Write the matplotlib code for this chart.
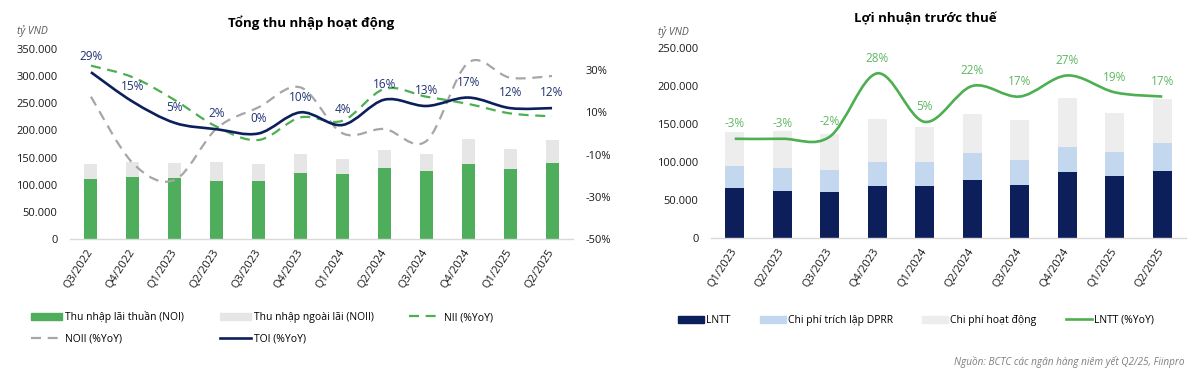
import matplotlib
matplotlib.use("Agg")
import matplotlib.pyplot as plt
from matplotlib.path import Path
from matplotlib.patches import PathPatch, Patch
from matplotlib.lines import Line2D
from matplotlib.ticker import FuncFormatter

plt.rcParams['font.family'] = ['Open Sans', 'DejaVu Sans']

# ---- left chart data (ty VND, %YoY)
quarters_left = ['Q3/2022', 'Q4/2022', 'Q1/2023', 'Q2/2023', 'Q3/2023', 'Q4/2023',
                 'Q1/2024', 'Q2/2024', 'Q3/2024', 'Q4/2024', 'Q1/2025', 'Q2/2025']
noi = [111000, 114000, 112500, 107600, 107000, 122000, 119000, 130000, 126000, 137800, 129000, 139600]
noii = [27000, 28000, 27500, 33400, 31000, 35000, 28000, 33600, 30000, 46500, 36000, 43200]
nii_yoy = [32.1, 26.6, 15.8, 3.2, -3.1, 7.6, 6.0, 21.1, 17.4, 14.0, 9.5, 8.1]
noii_yoy = [17.4, -14.1, -22.0, 2.4, 12.4, 21.8, 0.1, 2.1, -3.6, 33.5, 26.4, 27.2]
toi_yoy = [29, 15, 5, 2, 0, 10, 4, 16, 13, 17, 12, 12]

# ---- right chart data
quarters_right = ['Q1/2023', 'Q2/2023', 'Q3/2023', 'Q4/2023', 'Q1/2024',
                  'Q2/2024', 'Q3/2024', 'Q4/2024', 'Q1/2025', 'Q2/2025']
lntt = [65600, 62000, 59900, 68200, 69000, 76000, 69800, 86400, 82100, 88600]
dprr = [29700, 30700, 29700, 32300, 30700, 35500, 33000, 33300, 30700, 36800]
cphd = [44100, 47600, 47600, 56000, 46300, 51100, 52400, 64000, 52000, 57100]
lntt_yoy = [-3, -3, -2, 28, 5, 22, 17, 27, 19, 17]

GREEN_BAR = '#4EAE5B'
GREY_BAR = '#E6E6E6'
NAVY = '#0C1F5B'
GREEN_LINE = '#4CAF50'
GREY_LINE = '#A6A6A6'
LIGHT_BLUE = '#C3D7EE'
LIGHT_GREY = '#EDEDED'
TXT = '#1A1A1A'

W, H = 1200, 371
FS = 8


def smooth_path(xs, ys):
    # excel style smoothed line: catmull-rom turned into bezier segments
    pts = list(zip(xs, ys))
    n = len(pts)
    verts = [pts[0]]
    codes = [Path.MOVETO]
    for i in range(n - 1):
        p0 = pts[i - 1] if i > 0 else pts[i]
        p1 = pts[i]
        p2 = pts[i + 1]
        p3 = pts[i + 2] if i + 2 < n else pts[i + 1]
        c1 = (p1[0] + (p2[0] - p0[0]) / 6, p1[1] + (p2[1] - p0[1]) / 6)
        c2 = (p2[0] - (p3[0] - p1[0]) / 6, p2[1] - (p3[1] - p1[1]) / 6)
        verts += [c1, c2, p2]
        codes += [Path.CURVE4] * 3
    return Path(verts, codes)


def thousands(v, pos):
    return f"{int(v):,}".replace(",", ".")


def style_axis(ax):
    for s in ['top', 'right', 'left']:
        ax.spines[s].set_visible(False)
    ax.spines['bottom'].set_color('#D9D9D9')
    ax.spines['bottom'].set_linewidth(1)
    ax.tick_params(length=0, labelsize=FS, colors=TXT)
    ax.tick_params(axis='y', pad=9)
    ax.yaxis.set_major_formatter(FuncFormatter(thousands))


fig = plt.figure(figsize=(12, 3.71), dpi=100)

# ================= left chart
ax = fig.add_axes([70 / W, 1 - 239 / H, 503 / W, 190 / H])
xl = list(range(len(quarters_left)))
ax.bar(xl, noi, width=0.31, color=GREEN_BAR, zorder=2)
ax.bar(xl, noii, width=0.31, bottom=noi, color=GREY_BAR, zorder=2)
ax.set_ylim(0, 350000)
ax.set_yticks(range(0, 350001, 50000))
ax.set_xlim(-0.5, len(xl) - 0.5)
ax.set_xticks(xl)
ax.set_xticklabels(quarters_left, rotation=57, ha='right', va='center', rotation_mode='anchor')
ax.tick_params(axis='x', pad=8)
style_axis(ax)

axr = ax.twinx()
axr.set_ylim(-50, 40)
axr.set_yticks([-50, -30, -10, 10, 30])
axr.yaxis.set_major_formatter(FuncFormatter(lambda v, p: f"{int(v)}%"))
for s in axr.spines.values():
    s.set_visible(False)
axr.tick_params(length=0, labelsize=FS, colors=TXT, pad=9)

axr.add_patch(PathPatch(smooth_path(xl, noii_yoy), fill=False, edgecolor=GREY_LINE,
                        lw=1.6, linestyle=(0, (4.5, 3)), zorder=3))
axr.add_patch(PathPatch(smooth_path(xl, nii_yoy), fill=False, edgecolor=GREEN_LINE,
                        lw=1.6, linestyle=(0, (4.5, 3)), zorder=4))
axr.add_patch(PathPatch(smooth_path(xl, toi_yoy), fill=False, edgecolor=NAVY,
                        lw=1.9, zorder=5))
for i, v in enumerate(toi_yoy):
    axr.annotate(f"{v}%", (i, v), xytext=(0, 11), textcoords='offset points',
                 ha='center', va='center', fontsize=8.5, color='#1F3272', zorder=6)

fig.text(311 / W, 1 - 23 / H, 'Tổng thu nhập hoạt động', ha='center', va='center',
         fontsize=9.5, fontweight='bold', color='black')
fig.text(17 / W, 1 - 31 / H, 'tỷ VND', ha='left', va='center', fontsize=7.5,
         style='italic', color='#595959')

left_handles = [Patch(color=GREEN_BAR), Line2D([], [], color=GREY_LINE, lw=1.6, ls=(0, (4.5, 3))),
                Patch(color=GREY_BAR), Line2D([], [], color=NAVY, lw=1.9),
                Line2D([], [], color=GREEN_LINE, lw=1.6, ls=(0, (4.5, 3)))]
left_labels = ['Thu nhập lãi thuần (NOI)', 'NOII (%YoY)', 'Thu nhập ngoài lãi (NOII)',
               'TOI (%YoY)', 'NII (%YoY)']
fig.legend(left_handles, left_labels, ncol=3, loc='upper left',
           bbox_to_anchor=(31 / W, 1 - 311 / H), frameon=False, fontsize=7.5,
           handlelength=3.0, handletextpad=0.3, columnspacing=3.4, labelspacing=1.0,
           borderpad=0, borderaxespad=0)

# ================= right chart
bx = fig.add_axes([711 / W, 1 - 238 / H, 475 / W, 190 / H])
xr = list(range(len(quarters_right)))
b2 = [a + b for a, b in zip(lntt, dprr)]
bx.bar(xr, lntt, width=0.4, color=NAVY, zorder=2)
bx.bar(xr, dprr, width=0.4, bottom=lntt, color=LIGHT_BLUE, zorder=2)
bx.bar(xr, cphd, width=0.4, bottom=b2, color=LIGHT_GREY, zorder=2)
bx.set_ylim(0, 250000)
bx.set_yticks(range(0, 250001, 50000))
bx.set_xlim(-0.5, len(xr) - 0.5)
bx.set_xticks(xr)
bx.set_xticklabels(quarters_right, rotation=57, ha='right', va='center', rotation_mode='anchor')
bx.tick_params(axis='x', pad=8)
style_axis(bx)

bxr = bx.twinx()
bxr.set_ylim(-50, 40)
bxr.set_yticks([])
for s in bxr.spines.values():
    s.set_visible(False)
bxr.add_patch(PathPatch(smooth_path(xr, lntt_yoy), fill=False, edgecolor=GREEN_LINE,
                        lw=1.9, zorder=5))
for i, v in enumerate(lntt_yoy):
    bxr.annotate(f"{v}%", (i, v), xytext=(0, 11), textcoords='offset points',
                 ha='center', va='center', fontsize=8.5, color='#5DB761', zorder=6)

fig.text(925 / W, 1 - 19 / H, 'Lợi nhuận trước thuế', ha='center', va='center',
         fontsize=9.5, fontweight='bold', color='black')
fig.text(658 / W, 1 - 32 / H, 'tỷ VND', ha='left', va='center', fontsize=7.5,
         style='italic', color='#595959')

right_handles = [Patch(color=NAVY), Patch(color=LIGHT_BLUE), Patch(color=LIGHT_GREY),
                 Line2D([], [], color=GREEN_LINE, lw=1.9)]
right_labels = ['LNTT', 'Chi phí trích lập DPRR', 'Chi phí hoạt động', 'LNTT (%YoY)']
fig.legend(right_handles, right_labels, ncol=4, loc='upper left',
           bbox_to_anchor=(678 / W, 1 - 315 / H), frameon=False, fontsize=7.5,
           handlelength=2.5, handletextpad=0.2, columnspacing=2.8,
           borderpad=0, borderaxespad=0)

fig.text(1184 / W, 1 - 362 / H, 'Nguồn: BCTC các ngân hàng niêm yết Q2/25, Fiinpro',
         ha='right', va='center', fontsize=7.2, style='italic', color='#7F7F7F')

fig.savefig('out.png', dpi=100)
